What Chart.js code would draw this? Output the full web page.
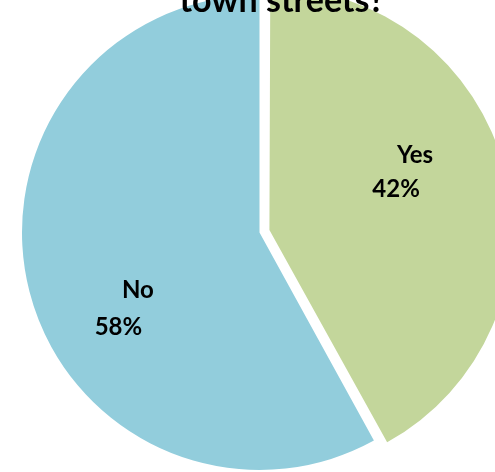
<!DOCTYPE html>
<html>
<head>
<meta charset="utf-8">
<script src="https://cdn.jsdelivr.net/npm/chart.js@4.4.0/dist/chart.umd.min.js"></script>
<style>
  html, body { margin: 0; padding: 0; background: #fff; }
  #wrap { width: 495px; height: 472px; }
</style>
</head>
<body>
<div id="wrap"><canvas id="myChart" width="495" height="472"></canvas></div>
<script>
const titleText = "town streets?"
const categories = ["Yes", "No"]
const shares = [42, 58]
const sliceColors = ["#C3D69B", "#92CDDC"]

// where each label sits, as a fraction of the radius from the pie centre
const labelSpots = [
  { name: [0.655, -0.326], pct: [0.575, -0.183] },
  { name: [-0.512, 0.244], pct: [-0.594, 0.4] },
]

const ctx = document.getElementById("myChart").getContext("2d")
const myChart = new Chart(ctx, {
  type: "pie",
  data: {
    labels: categories,
    datasets: [
      {
        data: shares,
        backgroundColor: sliceColors,
        borderWidth: 0,
        offset: [41, 0],
        hoverOffset: 0,
      },
    ],
  },
  options: {
    responsive: false,
    animation: false,
    radius: 237.5,
    layout: { padding: { left: 24, right: 0, top: 0, bottom: 7 } },
    plugins: {
      legend: { display: false },
      tooltip: { enabled: false },
      title: { display: false },
    },
  },
  plugins: [
    {
      id: "sliceLabels",
      afterDraw: function (chart) {
        const ctx = chart.ctx
        const arcs = chart.getDatasetMeta(0).data
        ctx.save()
        ctx.fillStyle = "#000"
        ctx.textAlign = "center"
        ctx.textBaseline = "middle"
        ctx.font = "bold 24px Lato"
        arcs.forEach((arc, i) => {
          const r = arc.outerRadius
          const spot = labelSpots[i]
          const pct = Math.round((shares[i] / shares.reduce((a, b) => a + b, 0)) * 100) + "%"
          ctx.fillText(categories[i], arc.x + spot.name[0] * r, arc.y + spot.name[1] * r)
          ctx.fillText(pct, arc.x + spot.pct[0] * r, arc.y + spot.pct[1] * r)
        })
        // title, mostly cut off at the top edge
        ctx.font = "bold 34px Lato"
        ctx.textBaseline = "alphabetic"
        ctx.fillText(titleText, 282, 12)
        ctx.restore()
      },
    },
  ],
})
</script>
</body>
</html>
